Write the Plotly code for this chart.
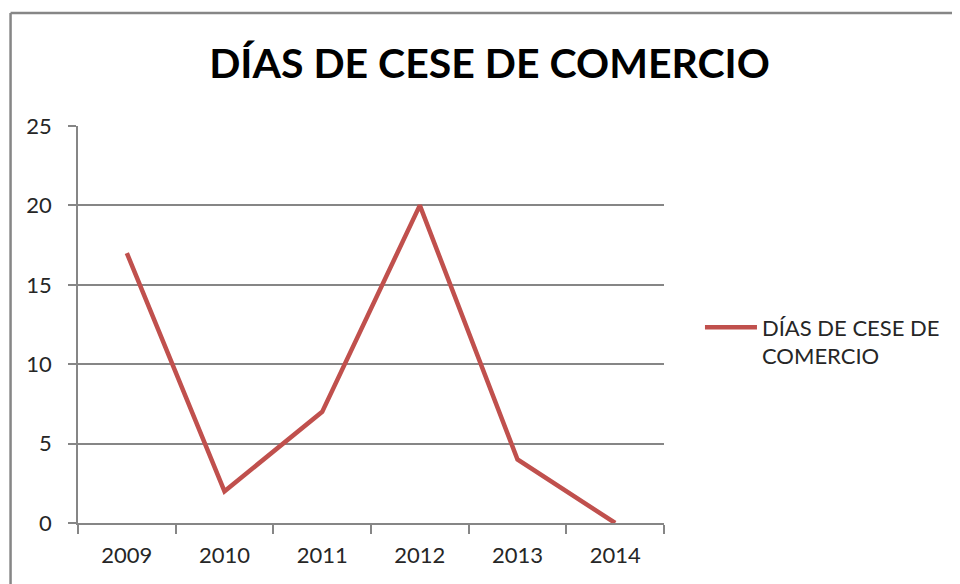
import plotly.graph_objects as go

years = ["2009", "2010", "2011", "2012", "2013", "2014"]
dias = [17, 2, 7, 20, 4, 0]
y_ticks = [0, 5, 10, 15, 20, 25]
titulo = "DÍAS DE CESE DE COMERCIO"
serie = "DÍAS DE CESE DE<br>COMERCIO"

# the page body has an 8px margin, so work in reference pixels and shift
OFF = 8
W, H = 960 - OFF, 584 - OFF
left, right, top, bottom = 77.5, 664, 126, 523   # plot area in reference px
ml, mt = left - OFF, top - OFF
mr, mb = W - (right - OFF), H - (bottom - OFF)
pw = right - left
ph = bottom - top
grey = "#868686"
red = "#C0504D"


def px_x(x):
    return (x - left) / pw


def px_y(y):
    return (bottom - y) / ph


fig = go.Figure()
fig.add_trace(go.Scatter(x=years, y=dias, mode="lines", name=serie,
                         line=dict(color=red, width=4.5)))

fig.update_layout(
    width=W, height=H,
    margin=dict(l=ml, r=mr, t=mt, b=mb, autoexpand=False),
    paper_bgcolor="white", plot_bgcolor="white",
    font=dict(family="Lato", size=22, color="#262626"),
    title=dict(text="<b>" + titulo + "</b>", font=dict(family="Lato", size=41, color="black"),
               x=(489.5 - OFF) / W, xanchor="center", xref="container",
               y=1 - (64 - OFF) / H, yanchor="middle", yref="container"),
    showlegend=True,
    legend=dict(x=px_x(700), xanchor="left", y=px_y(342), yanchor="middle",
                valign="top", itemwidth=52, font=dict(size=22),
                bgcolor="rgba(0,0,0,0)"),
)

fig.update_xaxes(type="category", range=[-0.5, 5.5], showgrid=False,
                 showline=True, linecolor=grey, linewidth=1.5,
                 ticks="outside", tickson="boundaries", ticklen=9, tickcolor=grey,
                 tickwidth=1.5, ticklabelstandoff=12, fixedrange=True)
fig.update_yaxes(range=[0, 25], tickvals=y_ticks, showgrid=True, gridcolor=grey, gridwidth=1.5,
                 showline=True, linecolor=grey, linewidth=1.5, zeroline=False,
                 ticks="outside", ticklen=8, tickcolor=grey, tickwidth=1.5,
                 ticklabelstandoff=12, fixedrange=True)

# chart border (Excel-style frame)
fig.add_shape(type="line", xref="paper", yref="paper",
              x0=px_x(10), x1=px_x(10), y0=px_y(H + 20), y1=px_y(13),
              line=dict(color=grey, width=2.5))
fig.add_shape(type="line", xref="paper", yref="paper",
              x0=px_x(10), x1=px_x(W + 20), y0=px_y(13), y1=px_y(13),
              line=dict(color=grey, width=2.5))

fig.write_html("out.html")
